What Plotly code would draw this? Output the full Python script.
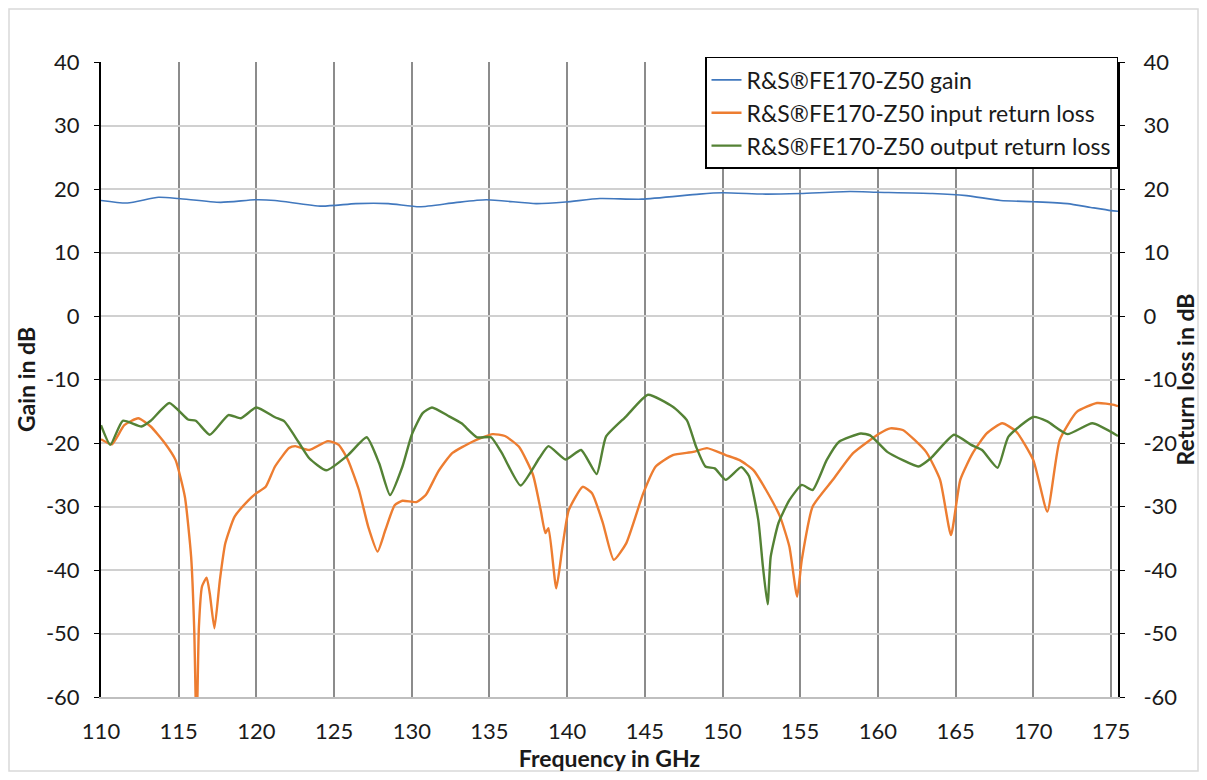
import plotly.graph_objs as go

# gain (left axis)
gain_f = [110.0, 111.7, 113.7, 115.0, 117.7, 119.9, 121.2, 124.2, 126.4, 128.5, 130.5, 132.8, 134.8,
          138.0, 139.9, 142.1, 144.8, 148.5, 150.0, 152.8, 155.0, 158.2, 159.9, 163.5, 165.7, 167.9,
          170.0, 172.2, 173.7, 175.0, 175.45]
gain_db = [18.2, 17.8, 18.7, 18.5, 17.9, 18.3, 18.2, 17.3, 17.7, 17.7, 17.2, 17.85, 18.3,
           17.7, 17.95, 18.5, 18.4, 19.2, 19.4, 19.2, 19.3, 19.6, 19.5, 19.3, 18.95, 18.2,
           18.0, 17.7, 17.1, 16.6, 16.5]

# input return loss
in_f = [110.0, 110.7, 111.5, 112.4, 113.2, 114.1, 114.8, 115.4, 115.8, 116.0, 116.15, 116.3, 116.5,
        116.8, 117.0, 117.3, 117.65, 118.0, 118.6, 119.5, 120.0, 120.6, 121.2, 122.1, 122.5, 123.4,
        124.6, 125.3, 125.9, 126.6, 127.2, 127.8, 128.3, 128.9, 129.4, 130.3, 130.9, 131.7, 132.6,
        133.9, 135.2, 136.0, 136.9, 137.8, 138.3, 138.6, 138.8, 139.3, 139.7, 140.1, 141.0, 141.6,
        142.3, 143.0, 143.8, 144.9, 145.7, 146.8, 148.1, 149.0, 150.2, 151.1, 152.0, 152.8, 153.7,
        154.3, 154.8, 155.1, 155.8, 157.1, 158.4, 160.1, 160.8, 161.6, 163.1, 164.0, 164.7, 165.3,
        166.1, 167.0, 168.0, 168.9, 170.0, 170.9, 171.7, 172.8, 174.1, 175.2, 175.45]
in_db = [-19.4, -20.2, -17.2, -16.1, -17.4, -20.0, -22.7, -28.5, -37.9, -49.4, -66.0, -49.0, -42.6,
         -41.2, -43.7, -49.2, -41.6, -35.8, -31.6, -29.0, -27.9, -26.9, -23.7, -20.8, -20.5, -21.1,
         -19.7, -20.3, -22.7, -27.4, -33.2, -37.1, -33.7, -29.8, -29.1, -29.3, -28.2, -24.5, -21.6,
         -19.8, -18.6, -18.9, -20.6, -25.0, -30.6, -34.2, -33.4, -42.9, -36.3, -30.6, -26.9, -27.9,
         -32.6, -38.4, -35.8, -27.9, -23.7, -21.9, -21.4, -20.8, -21.9, -22.7, -24.3, -27.4, -31.6,
         -36.3, -44.2, -38.4, -30.0, -25.8, -21.6, -18.5, -17.7, -17.95, -21.4, -25.8, -34.5, -25.8,
         -21.6, -18.5, -16.9, -18.2, -22.7, -30.8, -19.5, -15.1, -13.7, -14.0, -14.2]

# output return loss
out_f = [110.0, 110.6, 111.4, 112.6, 113.2, 114.4, 115.6, 116.1, 117.0, 118.2, 119.0, 120.0, 121.2,
         121.8, 122.7, 123.4, 124.5, 125.9, 127.1, 127.9, 128.6, 129.4, 130.0, 130.7, 131.3, 132.4,
         133.2, 134.2, 135.1, 135.8, 137.0, 138.2, 138.8, 139.9, 140.9, 141.9, 142.5, 143.8, 145.2,
         146.8, 147.7, 148.3, 148.9, 149.5, 150.2, 151.2, 151.7, 152.3, 152.6, 152.9, 153.1, 153.6,
         154.3, 155.1, 155.8, 156.7, 157.5, 158.9, 159.5, 160.6, 161.6, 162.6, 163.4, 164.9, 166.0,
         166.7, 167.7, 168.4, 170.0, 170.9, 172.2, 173.8, 175.45]
out_db = [-17.2, -20.3, -16.5, -17.4, -16.5, -13.7, -16.3, -16.5, -18.7, -15.6, -16.1, -14.4, -15.95,
          -16.6, -19.8, -22.4, -24.3, -21.9, -19.1, -23.2, -28.2, -23.7, -18.7, -15.3, -14.4, -15.8,
          -16.9, -19.1, -19.1, -21.6, -26.7, -22.4, -20.5, -22.6, -21.1, -24.9, -19.0, -15.8, -12.4,
          -14.3, -16.4, -20.6, -23.7, -24.0, -25.8, -23.8, -25.2, -32.1, -39.5, -45.4, -37.9, -32.6,
          -29.0, -26.6, -27.4, -22.7, -19.8, -18.5, -18.8, -21.4, -22.7, -23.7, -22.4, -18.7, -20.3,
          -21.1, -23.9, -19.0, -15.9, -16.6, -18.6, -16.9, -18.9]

x_ticks = list(range(110, 176, 5))
y_ticks = list(range(-60, 41, 10))
y_ticktext = [str(v) for v in y_ticks]  # plain hyphen minus like Excel

font_name = "Lato"
txt = "#1a1a1a"

fig = go.Figure()
fig.add_trace(go.Scatter(x=gain_f, y=gain_db, mode="lines", name="R&S®FE170-Z50 gain",
                         line=dict(color="#4178be", width=1.6, shape="spline", smoothing=0.6)))
fig.add_trace(go.Scatter(x=in_f, y=in_db, mode="lines", name="R&S®FE170-Z50 input return loss",
                         line=dict(color="#ed7d31", width=2.4, shape="spline", smoothing=0.5),
                         yaxis="y2"))
fig.add_trace(go.Scatter(x=out_f, y=out_db, mode="lines", name="R&S®FE170-Z50 output return loss",
                         line=dict(color="#548235", width=2.4, shape="spline", smoothing=0.5),
                         yaxis="y2"))

# page body has an 8px margin; keep the whole page inside the 1207x780 window
W, H = 1191, 764
L, T = 93, 54
R = W - L - 1017
B = H - T - 635
pw, ph = W - L - R, H - T - B
fig.add_shape(type="rect", xref="paper", yref="paper",
              x0=-(L - 1) / pw, x1=1 + (R - 1) / pw, y0=-(B - 1) / ph, y1=1 + (T - 1) / ph,
              line=dict(color="#d9d9d9", width=1.5), layer="below")

fig.update_layout(
    width=W, height=H,
    margin=dict(l=L, r=R, t=T, b=B, autoexpand=False),
    paper_bgcolor="white", plot_bgcolor="white",
    font=dict(family=font_name, size=22, color=txt),
    showlegend=True,
    legend=dict(x=1, y=1.008, xanchor="right", yanchor="top",
                bgcolor="white", bordercolor="black", borderwidth=1.5,
                font=dict(size=23), tracegroupgap=0, itemwidth=30),
    xaxis=dict(range=[110, 175.45], tickvals=x_ticks, showgrid=True, gridcolor="#8c8c8c",
               gridwidth=2, showline=True, linecolor="#bfbfbf", linewidth=1.5,
               ticks="", zeroline=False, ticklabelstandoff=14, automargin=False,
               title=dict(text="<b>Frequency in GHz</b>", font=dict(size=23), standoff=16)),
    yaxis=dict(range=[-60, 40], tickvals=y_ticks, ticktext=y_ticktext, showgrid=True,
               gridcolor="#d0d0d0", gridwidth=2, showline=True, linecolor="black", linewidth=2,
               ticks="outside", ticklen=5, tickcolor="black", zeroline=False,
               ticklabelstandoff=10, automargin=False,
               title=dict(text="<b>Gain in dB</b>", font=dict(size=23), standoff=4)),
    yaxis2=dict(range=[-60, 40], tickvals=y_ticks, ticktext=y_ticktext, overlaying="y",
                side="right", showgrid=False, showline=True, linecolor="black", linewidth=2,
                ticks="outside", ticklen=5, tickcolor="black", zeroline=False,
                ticklabelstandoff=14, automargin=False,
                title=dict(text="<b>Return loss in dB</b>", font=dict(size=23), standoff=9)),
)

fig.write_html("out.html")
